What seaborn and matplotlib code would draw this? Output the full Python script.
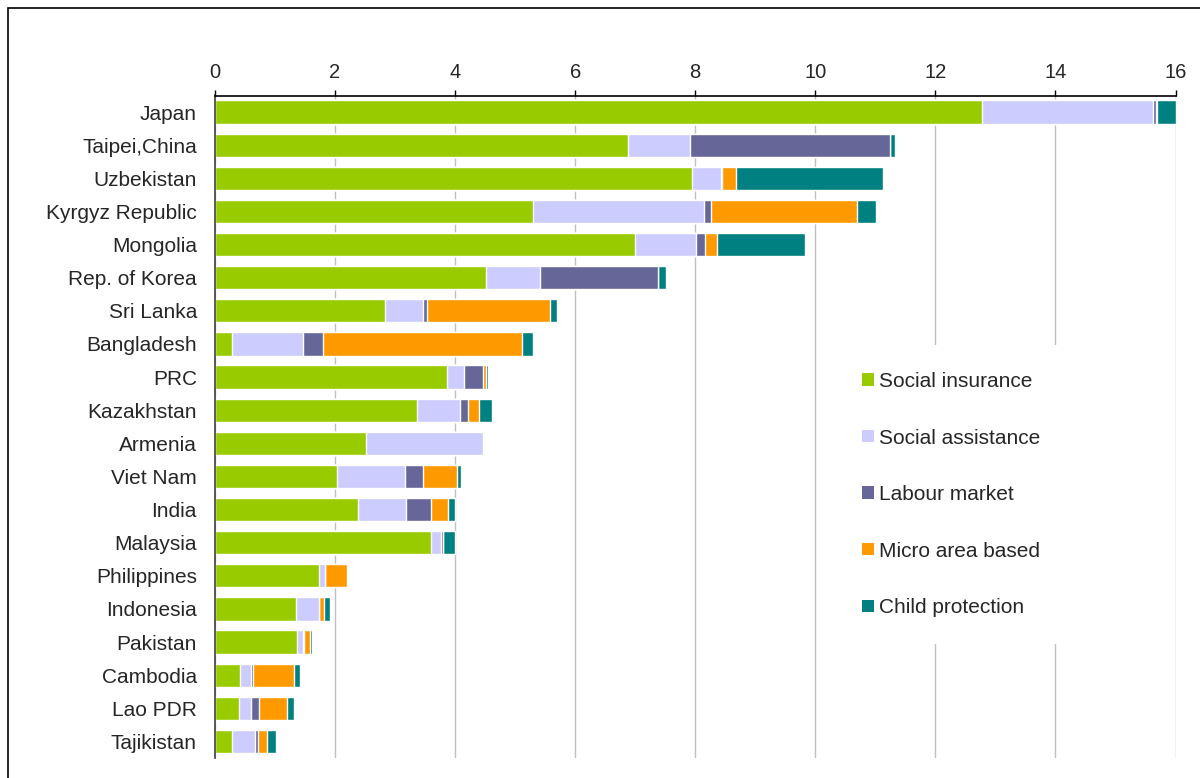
import numpy as np
import pandas as pd
import matplotlib
matplotlib.use('Agg')
import matplotlib.pyplot as plt
from matplotlib.patches import Patch, Rectangle
import seaborn as sns

countries = ["Japan", "Taipei,China", "Uzbekistan", "Kyrgyz Republic", "Mongolia",
             "Rep. of Korea", "Sri Lanka", "Bangladesh", "PRC", "Kazakhstan",
             "Armenia", "Viet Nam", "India", "Malaysia", "Philippines",
             "Indonesia", "Pakistan", "Cambodia", "Lao PDR", "Tajikistan"]

social_insurance = [12.78, 6.88, 7.94, 5.30, 6.99, 4.51, 2.84, 0.28, 3.86, 3.37,
                    2.52, 2.03, 2.38, 3.59, 1.74, 1.35, 1.36, 0.42, 0.40, 0.28]
social_assistance = [2.85, 1.04, 0.49, 2.85, 1.03, 0.90, 0.63, 1.18, 0.28, 0.71,
                     1.95, 1.13, 0.81, 0.17, 0.09, 0.38, 0.10, 0.18, 0.20, 0.38]
labour_market = [0.04, 3.32, 0.02, 0.11, 0.15, 1.97, 0.06, 0.34, 0.32, 0.14,
                 0.01, 0.31, 0.41, 0.03, 0.00, 0.01, 0.03, 0.04, 0.13, 0.06]
micro_area = [0.03, 0.00, 0.23, 2.43, 0.20, 0.00, 2.05, 3.32, 0.05, 0.18,
              0.00, 0.56, 0.28, 0.00, 0.37, 0.07, 0.10, 0.67, 0.47, 0.14]
child_protection = [0.30, 0.08, 2.44, 0.32, 1.45, 0.13, 0.12, 0.17, 0.04, 0.21,
                    0.02, 0.06, 0.12, 0.21, 0.00, 0.10, 0.02, 0.10, 0.12, 0.15]

series = ["Social insurance", "Social assistance", "Labour market",
          "Micro area based", "Child protection"]
colors = ["#99CC00", "#CCCCFF", "#666699", "#FF9900", "#008080"]

df = pd.DataFrame({
    "country": countries,
    series[0]: social_insurance,
    series[1]: social_assistance,
    series[2]: labour_market,
    series[3]: micro_area,
    series[4]: child_protection,
})
# running totals so each layer can be drawn as one bar from zero
cum = df[series].cumsum(axis=1)
cum["country"] = df["country"]

sns.set_style("white")
plt.rcParams['font.family'] = ['Liberation Sans', 'DejaVu Sans']

fig = plt.figure(figsize=(12, 7.78), dpi=100)
ax = fig.add_axes([215 / 1200, 1 - 758 / 778, (1175.5 - 215) / 1200, (758 - 95.5) / 778])

# draw widest layer first, then cover with the shorter ones
for name, col in reversed(list(zip(series, colors))):
    sns.barplot(data=cum, x=name, y="country", orient="h", color=col,
                saturation=1, width=0.7, ax=ax, zorder=2)

ax.set_xlabel("")
ax.set_ylabel("")
ax.set_xlim(0, 16)
ax.set_ylim(len(countries) - 0.5, -0.5)
ax.set_xticks(range(0, 17, 2))
ax.xaxis.tick_top()
ax.grid(axis='x', color='#c0c0c0', lw=1)
ax.grid(axis='y', visible=False)
ax.set_axisbelow(True)

for s in ["right", "bottom"]:
    ax.spines[s].set_visible(False)
ax.spines["top"].set_color("black")
ax.spines["left"].set_color("#404040")
ax.spines["top"].set_linewidth(1.2)
ax.spines["left"].set_linewidth(1.2)

ax.tick_params(axis='x', which='major', length=4, width=1, color='black',
               labelsize=14.5, pad=5.5, top=True, bottom=False)
ax.set_yticks(np.arange(-0.5, len(countries), 1), minor=True)
ax.tick_params(axis='y', which='major', length=0, labelsize=15, pad=13)
ax.tick_params(axis='y', which='minor', length=5, width=1, color='#404040')

handles = [Patch(facecolor=c, edgecolor='none', label=n) for n, c in zip(series, colors)]
leg = ax.legend(handles=handles, loc='upper left', bbox_to_anchor=(0.696, 1 - 345 / 778),
                bbox_transform=fig.transFigure, borderaxespad=0, frameon=True,
                fontsize=15, labelspacing=1.8, handlelength=0.54, handleheight=0.54,
                handletextpad=0.25, borderpad=1.3)
leg.get_frame().set_facecolor('white')
leg.get_frame().set_edgecolor('none')
leg.get_frame().set_alpha(1)
leg.get_frame().set_boxstyle('square', pad=0)

# outer chart frame
fig.add_artist(Rectangle((8 / 1200, -0.1), 1.2, 1 - 8 / 778 + 0.1,
                         transform=fig.transFigure, fill=False,
                         edgecolor='black', lw=1.2))

fig.savefig("out.png", dpi=100)
